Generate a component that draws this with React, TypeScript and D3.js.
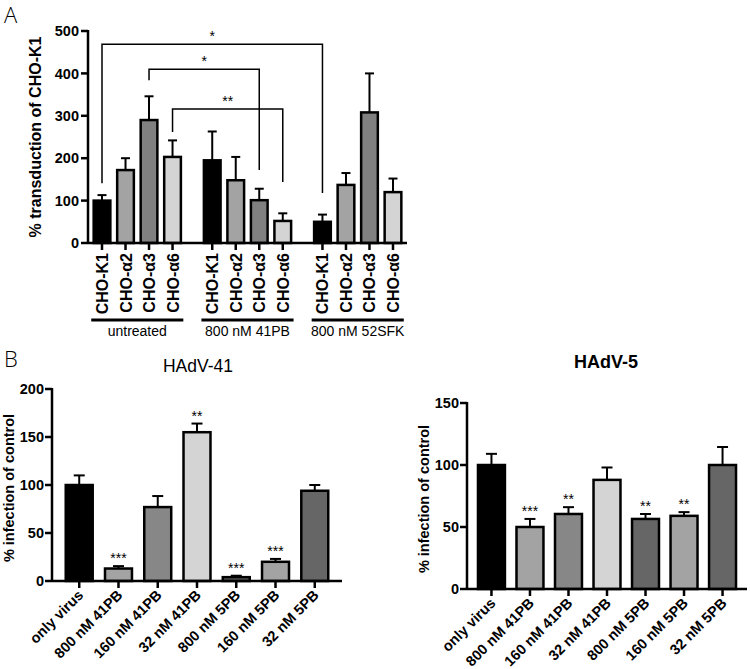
import * as d3 from 'd3';

// panel A
const groupsA = ['untreated', '800 nM 41PB', '800 nM 52SFK'];
const cellsA = ['CHO-K1', 'CHO-α2', 'CHO-α3', 'CHO-α6'];
const valuesA = [
  [100, 172, 290, 203],
  [195, 148, 101, 52],
  [50, 137, 308, 120],
];
const errA = [
  [13, 28, 56, 39],
  [68, 55, 27, 18],
  [17, 28, 92, 32],
];
const ticksA = [0, 100, 200, 300, 400, 500];
// significance brackets: [group, cell] -> [group, cell], bar height, leg ends
const bracketsA = [
  { a: [0, 0], b: [2, 0], y: 469, la: 141, lb: 118, label: '*' },
  { a: [0, 2], b: [1, 2], y: 410, la: 384, lb: 172, label: '*' },
  { a: [0, 3], b: [1, 3], y: 316, la: 262, lb: 144, label: '**' },
];

// panel B
const treatments = ['only virus', '800 nM 41PB', '160 nM 41PB', '32 nM 41PB', '800 nM 5PB', '160 nM 5PB', '32 nM 5PB'];
const h41 = [100, 13, 77, 155, 4, 20, 94];
const h41err = [10, 2.5, 11.5, 9, 1.5, 3, 6];
const h41sig = ['', '***', '', '**', '***', '***', ''];
const h41ticks = [0, 50, 100, 150, 200];
const h5 = [100, 50, 60.5, 88, 56.5, 59, 100];
const h5err = [9, 6.5, 5.5, 10, 4, 3, 14.5];
const h5sig = ['', '***', '**', '', '**', '**', ''];
const h5ticks = [0, 50, 100, 150];

const colorsA = ['#000000', '#a3a3a3', '#808080', '#d4d4d4'];
const colorsB = ['#000000', '#a3a3a3', '#878787', '#d4d4d4', '#666666', '#a3a3a3', '#666666'];

const font = 'Liberation Sans, Arial, sans-serif';

const PanelA = () => {
  const x0 = 88, x1 = 407, yBase = 243;
  const y = d3.scaleLinear().domain([0, 500]).range([yBase, 31]);
  const gx = d3.scaleBand().domain(groupsA).range([x0, x1]).paddingInner(0.146).paddingOuter(0.02);
  const cx = d3.scaleBand().domain(cellsA).range([0, gx.bandwidth()]).paddingInner(0.29).paddingOuter(0.147);
  const center = (g: number, c: number) => (gx(groupsA[g]) as number) + (cx(cellsA[c]) as number) + cx.bandwidth() / 2;
  const bw = cx.bandwidth();
  return (
    <g>
      <text x={4} y={23} fontSize={22} fontFamily="Open Sans, sans-serif" fontWeight={300}>A</text>
      <text transform={`translate(41,${(y(0) + y(500)) / 2}) rotate(-90)`} textAnchor="middle" fontSize={16} fontWeight="bold" fontFamily={font}>% transduction of CHO-K1</text>
      {groupsA.map((g, gi) => (
        <g key={g}>
          {cellsA.map((c, ci) => {
            const xc = center(gi, ci);
            const v = valuesA[gi][ci];
            const e = v + errA[gi][ci];
            return (
              <g key={c}>
                <line x1={xc} x2={xc} y1={y(v)} y2={y(e)} stroke="#000" strokeWidth={2} />
                <line x1={xc - 4.5} x2={xc + 4.5} y1={y(e)} y2={y(e)} stroke="#000" strokeWidth={2} />
                <rect x={xc - bw / 2} y={y(v)} width={bw} height={yBase - y(v)} fill={colorsA[ci]} stroke="#000" strokeWidth={2.5} />
                <line x1={xc} x2={xc} y1={yBase} y2={yBase + 7} stroke="#000" strokeWidth={2.5} />
                <text transform={`translate(${xc + 6},${yBase + 10}) rotate(-90)`} textAnchor="end" fontSize={16} fontWeight="bold" fontFamily={font}>{c}</text>
              </g>
            );
          })}
          <line x1={(gx(g) as number) + 1} x2={(gx(g) as number) + gx.bandwidth() - 1} y1={320} y2={320} stroke="#000" strokeWidth={3} />
          <text x={(gx(g) as number) + gx.bandwidth() / 2} y={336} textAnchor="middle" fontSize={14} fontFamily={font}>{g}</text>
        </g>
      ))}
      {bracketsA.map((b, i) => {
        const xa = center(b.a[0], b.a[1]);
        const xb = center(b.b[0], b.b[1]);
        return (
          <g key={i}>
            <path d={`M${xa},${y(b.la)}V${y(b.y)}H${xb}V${y(b.lb)}`} fill="none" stroke="#000" strokeWidth={1.5} />
            <text x={(xa + xb) / 2} y={y(b.y) - 3} textAnchor="middle" fontSize={14} fontFamily={font}>{b.label}</text>
          </g>
        );
      })}
      <line x1={x0} x2={x1} y1={yBase} y2={yBase} stroke="#000" strokeWidth={2.5} />
      <line x1={x0} x2={x0} y1={yBase} y2={y(500) - 1} stroke="#000" strokeWidth={2.5} />
      {ticksA.map(t => (
        <g key={t}>
          <line x1={x0 - 7} x2={x0} y1={y(t)} y2={y(t)} stroke="#000" strokeWidth={2.5} />
          <text x={x0 - 9} y={y(t)} dy="0.36em" textAnchor="end" fontSize={14.5} fontWeight="bold" fontFamily={font}>{t}</text>
        </g>
      ))}
    </g>
  );
};

const PanelB = (props: {
  vals: number[]; errs: number[]; sig: string[]; ticks: number[];
  x0: number; x1: number; yTop: number; yBase: number; pi: number; po: number;
  title: string; bold: boolean; titleX: number; titleY: number; titleSize: number; yTitleX: number;
}) => {
  const { vals, errs, sig, ticks, x0, x1, yTop, yBase } = props;
  const max = ticks[ticks.length - 1];
  const y = d3.scaleLinear().domain([0, max]).range([yBase, yTop]);
  const x = d3.scaleBand().domain(treatments).range([x0, x1]).paddingInner(props.pi).paddingOuter(props.po);
  const bw = x.bandwidth();
  return (
    <g>
      <text x={props.titleX} y={props.titleY} textAnchor="middle" fontSize={props.titleSize} fontWeight={props.bold ? 'bold' : 'normal'} fontFamily={font}>{props.title}</text>
      <text transform={`translate(${props.yTitleX},${(yBase + yTop) / 2 + 3}) rotate(-90)`} textAnchor="middle" fontSize={14.5} fontWeight="bold" fontFamily={font}>% infection of control</text>
      {treatments.map((t, i) => {
        const xc = (x(t) as number) + bw / 2;
        const v = vals[i];
        const e = v + errs[i];
        return (
          <g key={t}>
            <line x1={xc} x2={xc} y1={y(v)} y2={y(e)} stroke="#000" strokeWidth={2} />
            <line x1={xc - 5.5} x2={xc + 5.5} y1={y(e)} y2={y(e)} stroke="#000" strokeWidth={2} />
            <rect x={xc - bw / 2} y={y(v)} width={bw} height={yBase - y(v)} fill={colorsB[i]} stroke="#000" strokeWidth={2.5} />
            {sig[i] && <text x={xc} y={y(e) - 3} textAnchor="middle" fontSize={14} fontFamily={font}>{sig[i]}</text>}
            <line x1={xc} x2={xc} y1={yBase} y2={yBase + 7} stroke="#000" strokeWidth={2.5} />
            <text transform={`translate(${xc + 5},${yBase + 15}) rotate(-45)`} textAnchor="end" fontSize={14.5} fontWeight="bold" fontFamily={font}>{t}</text>
          </g>
        );
      })}
      <line x1={x0} x2={x1} y1={yBase} y2={yBase} stroke="#000" strokeWidth={2.5} />
      <line x1={x0} x2={x0} y1={yBase} y2={yTop - 1} stroke="#000" strokeWidth={2.5} />
      {ticks.map(t => (
        <g key={t}>
          <line x1={x0 - 7} x2={x0} y1={y(t)} y2={y(t)} stroke="#000" strokeWidth={2.5} />
          <text x={x0 - 8} y={y(t)} dy="0.36em" textAnchor="end" fontSize={14.5} fontWeight="bold" fontFamily={font}>{t}</text>
        </g>
      ))}
    </g>
  );
};

export default function App() {
  return (
    <svg width={750} height={669} style={{ position: 'absolute', left: 0, top: 0, background: '#fff' }}>
      <PanelA />
      <text x={4} y={367} fontSize={22} fontFamily="Open Sans, sans-serif" fontWeight={300}>B</text>
      <PanelB vals={h41} errs={h41err} sig={h41sig} ticks={h41ticks}
        x0={52} x1={342} yTop={389} yBase={581} pi={0.313} po={0.35}
        title="HAdV-41" bold={false} titleX={198} titleY={372} titleSize={17.5} yTitleX={14} />
      <PanelB vals={h5} errs={h5err} sig={h5sig} ticks={h5ticks}
        x0={467} x1={747} yTop={403} yBase={589} pi={0.3} po={0.285}
        title="HAdV-5" bold={true} titleX={606} titleY={368} titleSize={18} yTitleX={429} />
    </svg>
  );
}
